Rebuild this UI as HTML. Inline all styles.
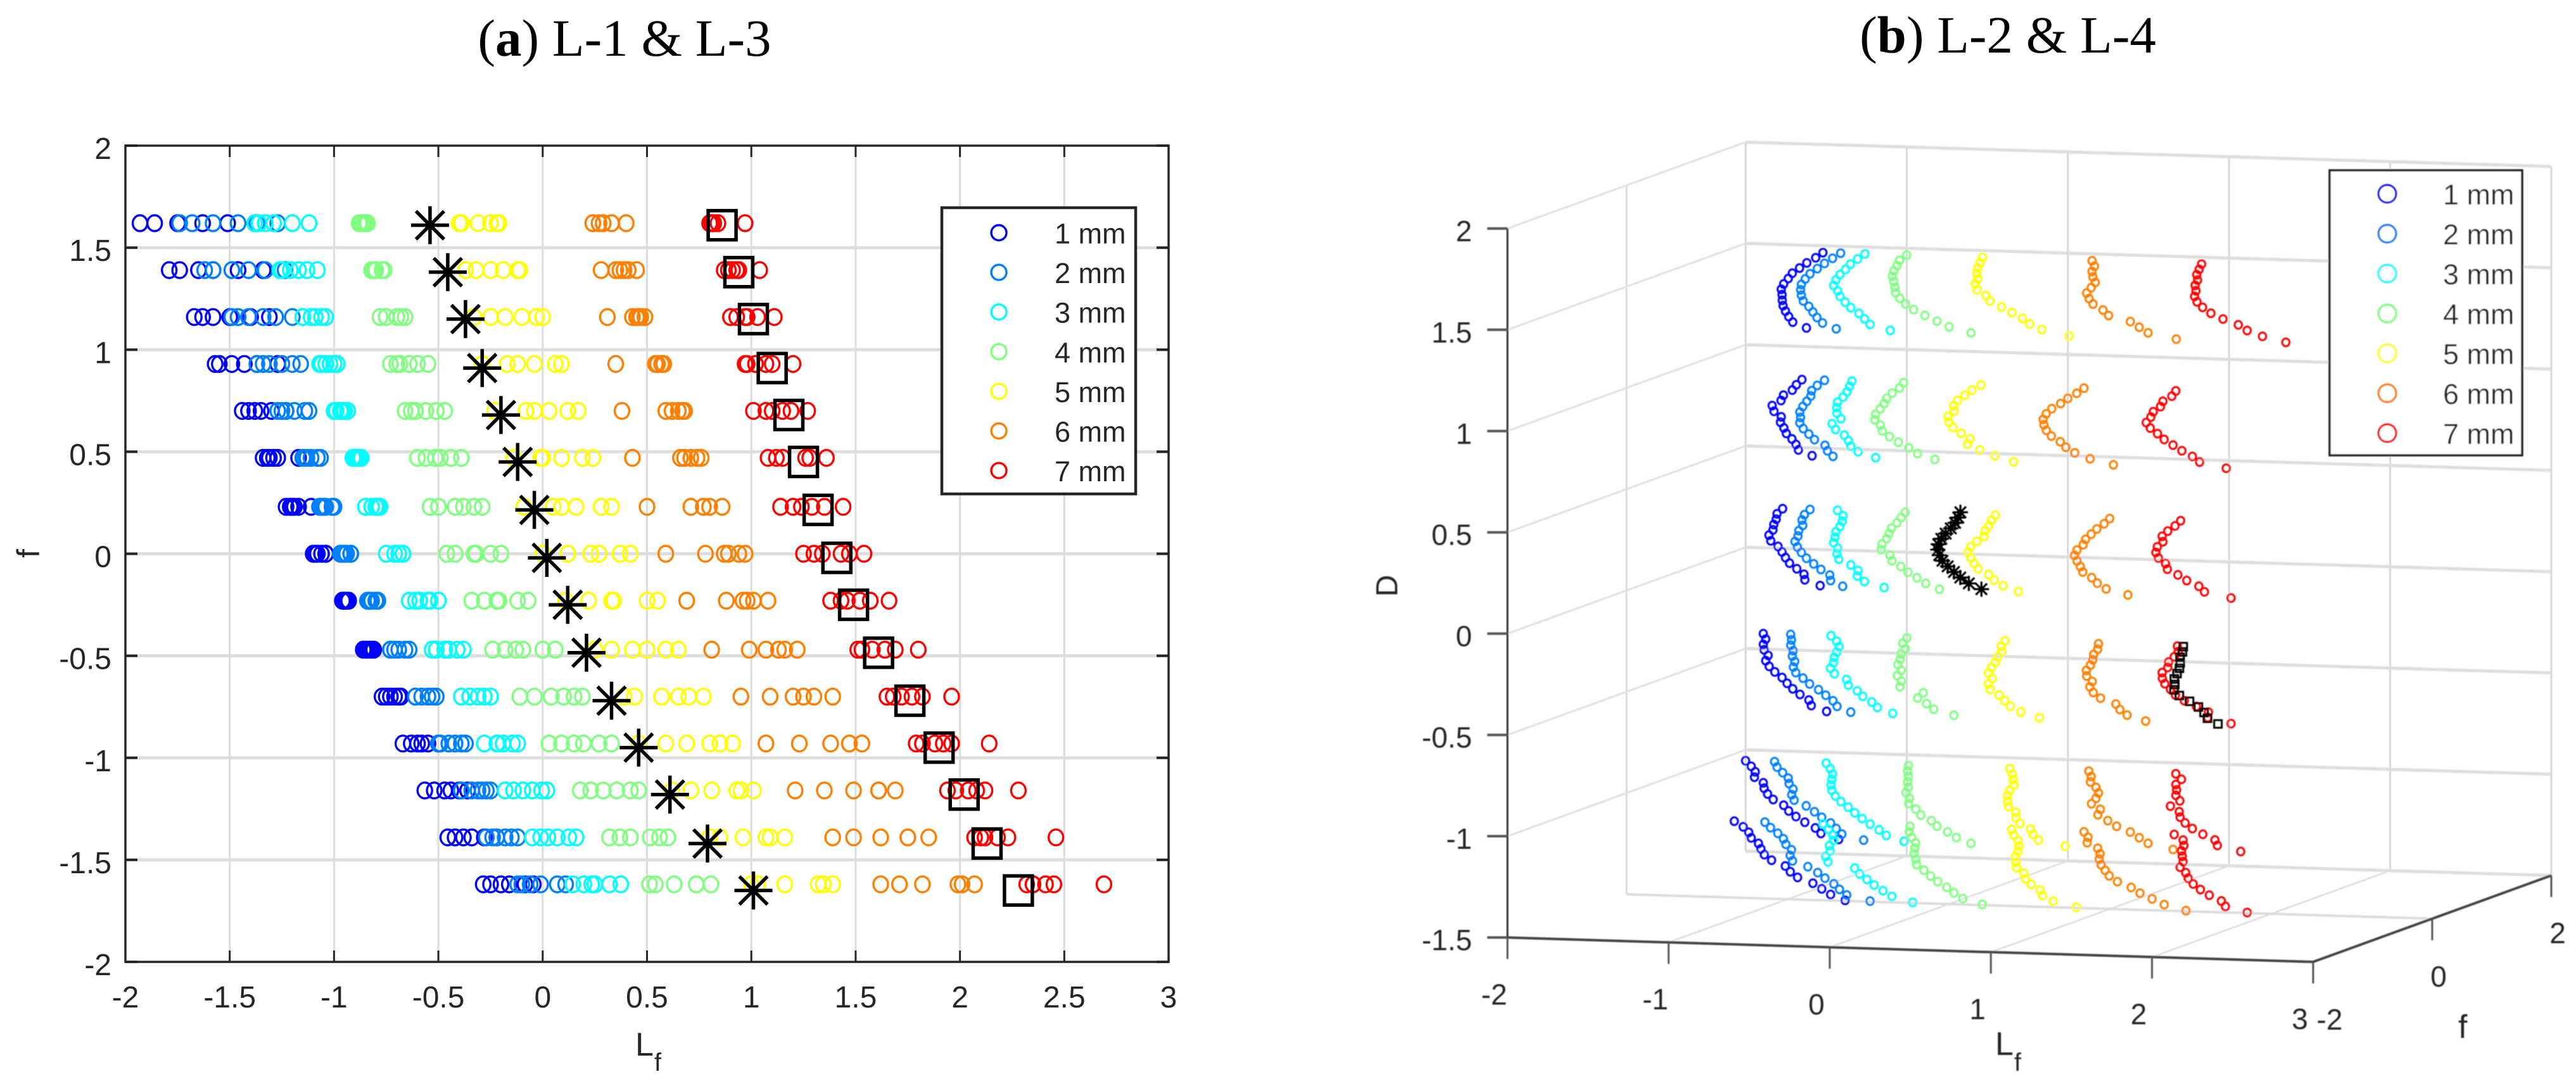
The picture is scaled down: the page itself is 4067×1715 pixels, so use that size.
<!DOCTYPE html>
<html lang="en">
<head>
<meta charset="utf-8">
<title>L-1 &amp; L-3 / L-2 &amp; L-4 scatter charts</title>
<style>
html,body{margin:0;padding:0;background:#fff;width:4067px;height:1715px;overflow:hidden}
svg{display:block}
text{font-family:"Liberation Sans",sans-serif;fill:#262626}
.title{font-family:"Liberation Serif",serif;font-size:83px;fill:#000}
</style>
</head>
<body>
<svg id="fig" xmlns="http://www.w3.org/2000/svg" width="4067" height="1715" viewBox="0 0 4067 1715">
<defs><filter id="soft" x="-2%" y="-2%" width="104%" height="104%"><feGaussianBlur stdDeviation="0.9"/></filter></defs>
<rect width="4067" height="1715" fill="#fff"/>
<text class="title" x="986" y="88" text-anchor="middle">(<tspan font-weight="bold">a</tspan>) L-1 &amp; L-3</text>
<text class="title" x="3170" y="83" text-anchor="middle">(<tspan font-weight="bold">b</tspan>) L-2 &amp; L-4</text>
<g id="chartA"></g>
<g id="chartB" filter="url(#soft)"></g>
</svg>
<script>
// Shared data: f values of the 15 rows, D values of the 6 levels
const fRows = [1.62,1.39,1.16,0.93,0.70,0.47,0.23,0,-0.23,-0.47,-0.70,-0.93,-1.16,-1.39,-1.62];
const dLevels = [1.51,0.88,0.24,-0.38,-1.01,-1.31];
const seriesNames = ['1 mm','2 mm','3 mm','4 mm','5 mm','6 mm','7 mm'];
const seriesColors = ['#0000ff','#0080ff','#00ffff','#80ff80','#ffff00','#ff8000','#ff0000'];
// Lf values: one array per D level, each with one value per f row
const lf1mm = [
[-1.38,-1.34,-1.31,-1.27,-1.23,-1.17,-1.11,-1.04,-0.95,-0.86,-0.77,-0.67,-0.565,-0.455,-0.285],
[-1.51,-1.46,-1.40,-1.37,-1.30,-1.27,-1.17,-1.04,-0.96,-0.85,-0.75,-0.63,-0.52,-0.42,-0.25],
[-1.63,-1.58,-1.50,-1.43,-1.35,-1.29,-1.19,-1.06,-0.95,-0.84,-0.73,-0.60,-0.47,-0.38,-0.20],
[-1.75,-1.65,-1.58,-1.49,-1.38,-1.31,-1.20,-1.08,-0.95,-0.83,-0.71,-0.58,-0.44,-0.34,-0.16],
[-1.86,-1.74,-1.63,-1.55,-1.41,-1.32,-1.21,-1.09,-0.94,-0.82,-0.69,-0.55,-0.40,-0.28,-0.085],
[-1.93,-1.79,-1.67,-1.57,-1.44,-1.34,-1.23,-1.10,-0.93,-0.81,-0.68,-0.50,-0.36,-0.22,-0.045]];
const lf2mm = [
[-1.27,-1.235,-1.20,-1.16,-1.12,-1.065,-1.00,-0.92,-0.83,-0.73,-0.61,-0.50,-0.39,-0.27,-0.10],
[-1.37,-1.33,-1.28,-1.20,-1.14,-1.08,-1.01,-0.92,-0.84,-0.73,-0.61,-0.49,-0.34,-0.24,-0.12],
[-1.46,-1.41,-1.34,-1.25,-1.19,-1.11,-1.04,-0.94,-0.83,-0.71,-0.58,-0.45,-0.31,-0.22,-0.06],
[-1.58,-1.49,-1.41,-1.31,-1.23,-1.13,-1.05,-0.95,-0.82,-0.69,-0.55,-0.42,-0.29,-0.18,-0.01],
[-1.68,-1.58,-1.46,-1.34,-1.25,-1.14,-1.06,-0.96,-0.80,-0.66,-0.53,-0.39,-0.27,-0.15,0.07],
[-1.74,-1.62,-1.49,-1.37,-1.27,-1.15,-1.07,-0.97,-0.79,-0.64,-0.51,-0.37,-0.25,-0.12,0.11]];
const lf3mm = [
[-1.12,-1.08,-1.04,-0.985,-0.935,-0.875,-0.80,-0.69,-0.59,-0.47,-0.35,-0.215,-0.095,0.025,0.235],
[-1.20,-1.13,-1.06,-1.00,-0.95,-0.87,-0.78,-0.67,-0.64,-0.53,-0.39,-0.28,-0.18,-0.05,0.144],
[-1.29,-1.17,-1.09,-1.02,-0.96,-0.88,-0.80,-0.69,-0.61,-0.51,-0.35,-0.22,-0.14,-0.01,0.197],
[-1.33,-1.21,-1.11,-1.04,-0.97,-0.89,-0.82,-0.71,-0.55,-0.45,-0.31,-0.19,-0.05,0.07,0.25],
[-1.36,-1.25,-1.15,-1.07,-0.99,-0.90,-0.79,-0.67,-0.54,-0.41,-0.28,-0.145,-0.005,0.125,0.32],
[-1.38,-1.26,-1.15,-1.06,-1.00,-0.91,-0.85,-0.75,-0.50,-0.38,-0.25,-0.12,0.02,0.16,0.374]];
const lf4mm = [
[-0.86,-0.82,-0.75,-0.685,-0.61,-0.515,-0.42,-0.33,-0.22,-0.095,0.04,0.195,0.355,0.515,0.736],
[-0.88,-0.82,-0.78,-0.73,-0.66,-0.60,-0.54,-0.46,-0.34,-0.24,-0.11,0.03,0.18,0.32,0.512],
[-0.87,-0.81,-0.75,-0.70,-0.63,-0.56,-0.50,-0.42,-0.28,-0.18,-0.04,0.09,0.23,0.37,0.54],
[-0.86,-0.80,-0.70,-0.64,-0.56,-0.49,-0.38,-0.32,-0.21,-0.13,0.10,0.15,0.29,0.42,0.63],
[-0.85,-0.77,-0.68,-0.60,-0.51,-0.44,-0.33,-0.25,-0.12,0,0.15,0.27,0.42,0.56,0.736],
[-0.84,-0.76,-0.66,-0.55,-0.47,-0.39,-0.29,-0.20,-0.07,0.06,0.19,0.33,0.46,0.60,0.806]];
const lf5mm = [
[-0.39,-0.32,-0.25,-0.17,-0.08,-0.01,0.09,0.23,0.34,0.50,0.65,0.80,0.93,1.09,1.345],
[-0.40,-0.37,-0.33,-0.29,-0.23,-0.14,-0.09,0,0.11,0.25,0.39,0.46,0.62,0.80,1.0],
[-0.31,-0.25,-0.18,-0.12,-0.04,0,0.05,0.12,0.22,0.33,0.44,0.59,0.71,0.85,1.03],
[-0.25,-0.19,-0.10,-0.04,0.03,0.09,0.16,0.27,0.33,0.43,0.57,0.69,0.81,0.96,1.16],
[-0.22,-0.12,-0.03,0.06,0.12,0.19,0.28,0.37,0.50,0.59,0.70,0.85,0.95,1.07,1.32],
[-0.21,-0.11,0,0.09,0.17,0.24,0.33,0.42,0.55,0.65,0.77,0.91,1.01,1.16,1.39]];
const lf6mm = [
[0.29,0.39,0.46,0.55,0.65,0.71,0.77,0.87,0.98,1.13,1.25,1.47,1.61,1.75,2.01],
[0.24,0.28,0.31,0.35,0.38,0.43,0.50,0.59,0.69,0.81,0.95,1.07,1.21,1.39,1.62],
[0.40,0.45,0.49,0.54,0.59,0.66,0.71,0.78,0.88,0.99,1.09,1.23,1.35,1.49,1.71],
[0.33,0.41,0.47,0.55,0.62,0.68,0.77,0.89,0.96,1.07,1.20,1.38,1.49,1.62,1.82],
[0.27,0.37,0.45,0.57,0.67,0.74,0.80,0.94,1.01,1.16,1.30,1.47,1.61,1.75,1.99],
[0.24,0.35,0.43,0.58,0.68,0.76,0.86,0.97,1.08,1.22,1.39,1.53,1.69,1.85,2.07]];
const lf7mm = [
[0.97,1.04,1.11,1.20,1.27,1.36,1.44,1.54,1.66,1.80,1.96,2.14,2.28,2.46,2.69],
[0.81,0.87,0.90,0.97,1.01,1.08,1.14,1.25,1.38,1.51,1.65,1.79,1.94,2.07,2.32],
[0.84,0.89,0.93,0.98,1.07,1.12,1.20,1.30,1.43,1.53,1.68,1.82,1.98,2.10,2.35],
[0.82,0.91,0.97,1.02,1.10,1.15,1.24,1.34,1.46,1.58,1.72,1.88,2.04,2.12,2.35],
[0.81,0.93,0.98,1.07,1.15,1.26,1.29,1.43,1.52,1.64,1.77,1.92,2.08,2.18,2.41],
[0.80,0.94,1.03,1.10,1.19,1.28,1.35,1.47,1.57,1.69,1.82,1.96,2.12,2.23,2.45]];
const allSeries = [lf1mm,lf2mm,lf3mm,lf4mm,lf5mm,lf6mm,lf7mm];
// Black overlay markers
const starLf = [-0.54,-0.455,-0.37,-0.29,-0.20,-0.12,-0.04,0.02,0.12,0.21,0.33,0.46,0.61,0.79,1.01];
const starLf3d = [-0.523,-0.451,-0.386,-0.324,-0.271,-0.213,-0.145,-0.061,0.033,0.14,0.259,0.383,0.507,0.649,0.812];
const squareLf = [0.86,0.94,1.01,1.10,1.18,1.25,1.32,1.41,1.49,1.61,1.76,1.90,2.02,2.13,2.28];
const overlayF = [1.61,1.38,1.15,0.91,0.68,0.45,0.215,-0.02,-0.25,-0.485,-0.72,-0.95,-1.18,-1.42,-1.65];
const starD = 0.25;
const squareD = -0.38;
// Tick labels
const aXTicks = ['-2','-1.5','-1','-0.5','0','0.5','1','1.5','2','2.5','3'];
const aYTicks = ['-2','-1.5','-1','-0.5','0','0.5','1','1.5','2'];
const bLTicks = ['-2','-1','0','1','2','3'];
const bFTicks = ['-2','0','2'];
const bDTicks = ['-1.5','-1','-0.5','0','0.5','1','1.5','2'];

const NS = 'http://www.w3.org/2000/svg';
function mk(tag, parent, props){
  const el = document.createElementNS(NS, tag);
  for (const k in props) el.setAttribute(k, props[k]);
  parent.appendChild(el);
  return el;
}
function line(parent, x1, y1, x2, y2, stroke, w){
  return mk('line', parent, {x1:x1, y1:y1, x2:x2, y2:y2, stroke:stroke, 'stroke-width':w});
}
function starPath(x, y, r){
  const d = r * 0.74;
  return 'M'+x+' '+(y-r)+'V'+(y+r)+'M'+(x-r)+' '+y+'H'+(x+r)+
         'M'+(x-d)+' '+(y-d)+'L'+(x+d)+' '+(y+d)+'M'+(x-d)+' '+(y+d)+'L'+(x+d)+' '+(y-d);
}

/* ---------- Chart A: 2D ---------- */
const A = document.getElementById('chartA');
const ax = v => 198 + (v + 2) * 329.4;
const ay = v => 230 + (2 - v) * 322.25;

aXTicks.forEach(t => {
  const v = parseFloat(t), x = ax(v);
  if (v > -2 && v < 3) {
    const g = line(A, x, 230, x, 1519, '#dcdcdc', 3);
    
    
  }
});
aYTicks.forEach(t => {
  const v = parseFloat(t), y = ay(v);
  if (v > -2 && v < 2) {
    const g = line(A, 198, y, 1845, y, '#dedede', 5);
    
    
  }
});
allSeries.forEach((levels, s) => {
  levels.forEach(vals => {
    vals.forEach((lf, r) => {
      const c = mk('ellipse', A, {cx:ax(lf), cy:ay(fRows[r]), rx:11.5, ry:12.5, fill:'none', stroke:seriesColors[s], 'stroke-width':3.4});
      
      
    });
  });
});
starLf.forEach((lf, r) => {
  const p = mk('path', A, {d:starPath(ax(lf), ay(overlayF[r]), 30), fill:'none', stroke:'#000', 'stroke-width':5.5});
  
  
});
squareLf.forEach((lf, r) => {
  const q = mk('rect', A, {x:ax(lf)-22, y:ay(overlayF[r])-23, width:44, height:46, fill:'none', stroke:'#000', 'stroke-width':5.5});
  
  
});
const aBox = mk('rect', A, {x:198, y:230, width:1647, height:1289, fill:'none', stroke:'#262626', 'stroke-width':3.5});


aXTicks.forEach(t => {
  const v = parseFloat(t), x = ax(v);
  const t1 = line(A, x, 230, x, 248, '#262626', 3);
  
  
  const t2 = line(A, x, 1519, x, 1501, '#262626', 3);
  
  
  const l = mk('text', A, {x:x, y:1591, 'text-anchor':'middle', 'font-size':48});
  l.textContent = t;
  
  
});
aYTicks.forEach(t => {
  const v = parseFloat(t), y = ay(v);
  const t1 = line(A, 198, y, 217, y, '#262626', 4);
  
  
  const t2 = line(A, 1845, y, 1826, y, '#262626', 4);
  
  
  const l = mk('text', A, {x:176, y:y+21, 'text-anchor':'end', 'font-size':48});
  l.textContent = t;
  
  
});
const aXT = mk('text', A, {x:1003, y:1667, 'font-size':52});
aXT.textContent = 'L';


const aXS = mk('text', A, {x:1033, y:1691, 'font-size':40});
aXS.textContent = 'f';


const aYT = mk('text', A, {x:0, y:0, 'font-size':50, 'text-anchor':'middle', transform:'translate(62 874) rotate(-90)'});
aYT.textContent = 'f';


const aLeg = mk('rect', A, {x:1487, y:328, width:306, height:452, fill:'#fff', stroke:'#262626', 'stroke-width':4.5});


seriesNames.forEach((n, s) => {
  const y = 367.5 + s * 62.6;
  const c = mk('circle', A, {cx:1577, cy:y, r:12, fill:'none', stroke:seriesColors[s], 'stroke-width':3.4});
  
  
  const l = mk('text', A, {x:1665, y:y+17, 'font-size':45, fill:'#000'});
  l.textContent = n;
  
  
});

/* ---------- Chart B: 3D projected ---------- */
const B = document.getElementById('chartB');
const px = (l, f) => 2380 + (l + 2) * 254.4 + (f + 2) * 94;
const py = (l, f, d) => 1480.5 + (l + 2) * 7.7 - (f + 2) * 34.1 - (d + 1.5) * 319.9;
const gridColor = '#dcdcdc';
// back wall verticals + floor L-lines
bLTicks.forEach(t => {
  const v = parseFloat(t);
  const g1 = line(B, px(v,2), py(v,2,-1.5), px(v,2), py(v,2,2), v === -2 ? '#bdbdbd' : '#cfcfcf', 2.5);
  
  
  if (v > -2 && v < 3) {
    const g2 = line(B, px(v,-2), py(v,-2,-1.5), px(v,2), py(v,2,-1.5), gridColor, 2.5);
    
    
  }
});
// f lines: left wall verticals and floor cross lines
[0, 2].forEach(v => {
  const g1 = line(B, px(-2,v), py(-2,v,-1.5), px(-2,v), py(-2,v,2), '#d4d4d4', 2.5);
  
  
});
bFTicks.forEach(t => {
  const v = parseFloat(t);
  if (v > -2) {
    const g2 = line(B, px(-2,v), py(-2,v,-1.5), px(3,v), py(3,v,-1.5), '#dcdcdc', 4);
    
    
  }
});
// D lines on left and back walls
bDTicks.forEach(t => {
  const v = parseFloat(t);
  if (v > -1.5) {
    const g1 = line(B, px(-2,-2), py(-2,-2,v), px(-2,2), py(-2,2,v), '#e0e0e0', 3);
    
    
  }
  const g2 = line(B, px(-2,2), py(-2,2,v), px(3,2), py(3,2,v), '#dedede', 5);
  
  
});
allSeries.forEach((levels, s) => {
  levels.forEach((vals, k) => {
    vals.forEach((lf, r) => {
      const f = fRows[r];
      const c = mk('ellipse', B, {cx:px(lf,f), cy:py(lf,f,dLevels[k]), rx:5.8, ry:6.2, fill:'none', stroke:seriesColors[s], 'stroke-width':3});
      
      
    });
  });
});
starLf3d.forEach((lf, r) => {
  const f = overlayF[r];
  const p = mk('path', B, {d:starPath(px(lf,f), py(lf,f,starD), 12), fill:'none', stroke:'#000', 'stroke-width':3.2});
  
  
});
squareLf.forEach((lf, r) => {
  const f = overlayF[r];
  const q = mk('rect', B, {x:px(lf,f)-6, y:py(lf,f,squareD)-6, width:12, height:12, fill:'none', stroke:'#000', 'stroke-width':3});
  
  
});
const bAxisD = line(B, px(-2,-2), py(-2,-2,-1.5), px(-2,-2), py(-2,-2,2), '#333', 3);


const bAxisL = line(B, px(-2,-2), py(-2,-2,-1.5), px(3,-2), py(3,-2,-1.5), '#444', 4);


const bAxisF = line(B, px(3,-2), py(3,-2,-1.5), px(3,2), py(3,2,-1.5), '#444', 4);


bDTicks.forEach(t => {
  const v = parseFloat(t), x = px(-2,-2), y = py(-2,-2,v);
  const k = line(B, x-32, y, x, y, '#555', 4);
  
  
  const l = mk('text', B, {x:2324, y:y+20, 'text-anchor':'end', 'font-size':46, fill:'#333'});
  l.textContent = t;
  
  
});
bLTicks.forEach(t => {
  const v = parseFloat(t), x = px(v,-2), y = py(v,-2,-1.5);
  const k = line(B, x, y, x, y+34, '#555', 3);
  
  
  const l = mk('text', B, {x:x-21, y:y+106, 'text-anchor':'middle', 'font-size':46, fill:'#333'});
  l.textContent = t;
  
  
});
bFTicks.forEach(t => {
  const v = parseFloat(t), x = px(3,v), y = py(3,v,-1.5);
  const k = line(B, x, y, x, y+34, '#555', 3);
  
  
  const l = mk('text', B, {x:x + (v < 0 ? 26 : 10), y:y+107, 'text-anchor':'middle', 'font-size':46, fill:'#333'});
  l.textContent = t;
  
  
});
const bXT = mk('text', B, {x:3150, y:1666, 'font-size':52, fill:'#333'});
bXT.textContent = 'L';


const bXS = mk('text', B, {x:3180, y:1691, 'font-size':40, fill:'#333'});
bXS.textContent = 'f';


const bFT = mk('text', B, {x:3881, y:1639, 'font-size':52, fill:'#333'});
bFT.textContent = 'f';


const bDT = mk('text', B, {x:0, y:0, 'font-size':48, 'text-anchor':'middle', fill:'#333', transform:'translate(2206 925) rotate(-90)'});
bDT.textContent = 'D';


const bLeg = mk('rect', B, {x:3678, y:269, width:304, height:450, fill:'#fff', stroke:'#222', 'stroke-width':3.5});


seriesNames.forEach((n, s) => {
  const y = 306 + s * 63;
  const c = mk('circle', B, {cx:3769, cy:y, r:14, fill:'none', stroke:seriesColors[s], 'stroke-width':3.4});
  
  
  const l = mk('text', B, {x:3857, y:y+17, 'font-size':45, fill:'#222'});
  l.textContent = n;
  
  
});
</script>
</body>
</html>
